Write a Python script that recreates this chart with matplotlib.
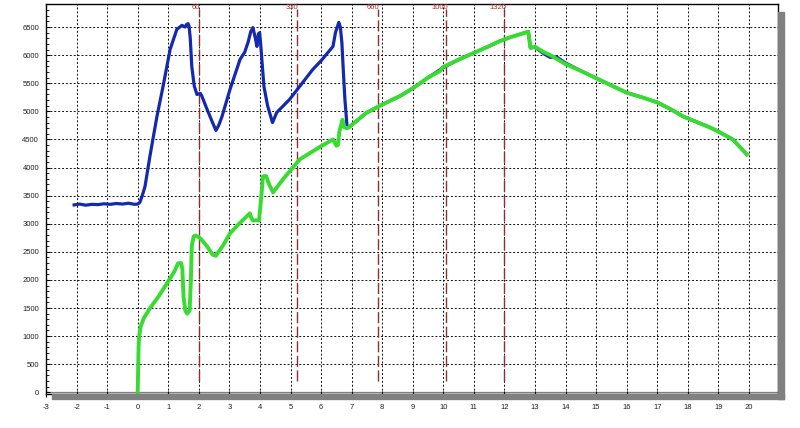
import numpy as np
import matplotlib
matplotlib.use('Agg')
import matplotlib.pyplot as plt
from matplotlib.patches import Rectangle

plt.rcParams['font.family'] = ['Liberation Sans', 'DejaVu Sans']
plt.rcParams['axes.unicode_minus'] = False

# curva azul (x, y)
azul_x = [-2.08, -1.9, -1.7, -1.5, -1.3, -1.1, -0.9, -0.7, -0.5, -0.3, -0.1, 0.0, 0.07,
          0.15, 0.24, 0.4, 0.63, 0.83, 1.06, 1.28, 1.45, 1.55, 1.6, 1.65, 1.68, 1.72,
          1.77, 1.85, 1.94, 2.05, 2.1, 2.27, 2.45, 2.56, 2.65, 2.76, 3.02, 3.35, 3.5,
          3.61, 3.7, 3.77, 3.85, 3.9, 3.95, 3.99, 4.03, 4.13, 4.25, 4.41, 4.55, 4.97,
          5.3, 5.73, 6.0, 6.39, 6.47, 6.58, 6.63, 6.68, 6.73, 6.78, 6.85, 6.9,
          7.49, 8.0, 8.58, 9.0, 9.5, 9.99, 10.5, 11.0, 11.5, 11.85, 12.2, 12.5, 12.78,
          12.85, 13.0, 13.3, 13.5, 13.7, 14.0, 14.5, 15.0, 15.5, 16.0, 16.5, 17.0,
          17.5, 17.84, 18.2, 18.72, 19.0, 19.47, 19.93]
azul_y = [3335, 3350, 3330, 3345, 3340, 3355, 3345, 3360, 3350, 3365, 3345, 3350, 3380,
          3500, 3665, 4200, 4910, 5444, 6100, 6458, 6530, 6500, 6547, 6560, 6517, 6300,
          5800, 5450, 5300, 5320, 5270, 5035, 4800, 4660, 4750, 4910, 5390, 5925, 6050,
          6226, 6420, 6490, 6300, 6155, 6380, 6400, 6155, 5444, 5100, 4800, 4980, 5212,
          5444, 5746, 5900, 6155, 6400, 6582, 6500, 6226, 5700, 5212, 4730, 4710,
          4976, 5120, 5271, 5410, 5600, 5776, 5920, 6040, 6160, 6250, 6320, 6370, 6417,
          6130, 6140, 6020, 5960, 5970, 5860, 5720, 5590, 5460, 5331, 5250, 5159,
          5020, 4910, 4830, 4714, 4640, 4500, 4234]

# curva verde (x, y)
verde_x = [0.0, 0.03, 0.05, 0.1, 0.2, 0.4, 0.7, 0.96, 1.2, 1.32, 1.42, 1.46, 1.5, 1.56,
           1.62, 1.7, 1.74, 1.77, 1.83, 1.9, 2.05, 2.27, 2.45, 2.56, 2.8, 3.02, 3.3,
           3.57, 3.67, 3.72, 3.77, 3.97, 4.03, 4.1, 4.2, 4.3, 4.43, 4.75, 5.3, 6.0,
           6.39, 6.5, 6.55, 6.6, 6.7, 6.75, 6.85, 6.9,
           7.49, 8.0, 8.58, 9.0, 9.5, 9.9, 9.99, 10.5, 11.0, 11.5, 11.85, 12.2, 12.5,
           12.78, 12.85, 13.0, 13.3, 13.5, 14.0, 14.5, 15.0, 15.5, 16.0, 16.5, 17.0,
           17.5, 17.84, 18.2, 18.72, 19.0, 19.47, 19.93]
verde_y = [0, 818, 1000, 1174, 1320, 1494, 1720, 1940, 2150, 2295, 2300, 2200, 1700, 1450,
           1400, 1458, 2000, 2597, 2775, 2790, 2740, 2597, 2450, 2430, 2620, 2829, 2990,
           3131, 3185, 3100, 3060, 3060, 3400, 3843, 3850, 3700, 3558, 3789, 4145, 4380,
           4500, 4390, 4400, 4640, 4850, 4720, 4700, 4712,
           4976, 5120, 5271, 5410, 5600, 5720, 5790, 5920, 6040, 6160, 6250, 6320, 6370,
           6417, 6130, 6150, 6050, 6000, 5840, 5720, 5590, 5460, 5331, 5250, 5159,
           5020, 4910, 4830, 4714, 4640, 4500, 4234]

# linhas verticais vermelhas
marcas_x = [2.0, 5.2, 7.85, 10.1, 12.0]
marcas_txt = ['60', '330', '660', '1000', '1320']

fig = plt.figure(figsize=(8, 4.28), dpi=100)
ax = fig.add_axes([46 / 800, (428 - 394) / 428, (778 - 46) / 800, (394 - 4) / 428])

ax.set_xlim(-3, 20.95)
ax.set_ylim(-30, 6910)

# grade tracejada
for gx in range(-2, 21):
    ax.axvline(gx, color='#111111', lw=0.7, dashes=(2.0, 2.0), zorder=1)
for gy in range(500, 7000, 500):
    ax.axhline(gy, color='#111111', lw=0.7, dashes=(2.0, 2.0), zorder=1)
ax.axhline(0, color='black', lw=0.9, dashes=(0.8, 0.8), zorder=1)

for mx, mt in zip(marcas_x, marcas_txt):
    ax.vlines(mx, 200, 6820, color='#8a3030', lw=1.0, linestyles=(0, (8, 2.5)), zorder=2)
    ax.text(mx + 0.05, 6840, mt, color='#b03030', fontsize=5.5, ha='right', va='center')

ax.plot(azul_x, azul_y, color='#1428b0', lw=2.3, zorder=3, solid_joinstyle='round')
ax.plot(verde_x, verde_y, color='#38dc30', lw=2.8, zorder=4, solid_joinstyle='round')

ax.set_xticks(range(-3, 21))
ax.set_yticks(range(0, 7000, 500))
ax.set_yticks(range(0, 6900, 100), minor=True)
ax.tick_params(axis='x', direction='inout', length=4, width=0.8, pad=5, labelsize=5.5,
               labelcolor='#222222')
ax.tick_params(axis='y', which='major', direction='in', length=3, width=0.8, pad=5,
               labelsize=5.5, labelcolor='#222222')
ax.tick_params(axis='y', which='minor', direction='in', length=2, width=0.6)
for s in ax.spines.values():
    s.set_linewidth(1.0)

# sombra da moldura
fig.patches.append(Rectangle((778 / 800, (428 - 399) / 428), 6 / 800, 387 / 428,
                             transform=fig.transFigure, color='#808080', zorder=0))
fig.patches.append(Rectangle((52 / 800, (428 - 399) / 428), 732 / 800, 5 / 428,
                             transform=fig.transFigure, color='#808080', zorder=0))

fig.savefig('out.png', dpi=100)
